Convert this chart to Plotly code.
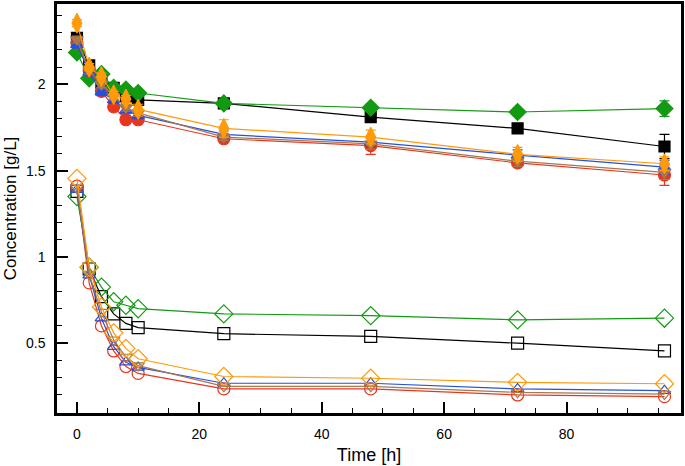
import plotly.graph_objects as go

time_h = [0, 2, 4, 6, 8, 10, 24, 48, 72, 96]

# Filled symbols (upper group)
black_f = [2.27, 2.11, 2.01, 1.98, 1.93, 1.91, 1.89, 1.81, 1.745, 1.64]
green_f = [2.185, 2.035, 2.06, 1.98, 1.97, 1.95, 1.89, 1.865, 1.84, 1.86]
red_f = [2.24, 2.08, 1.96, 1.87, 1.795, 1.795, 1.685, 1.645, 1.545, 1.475]
blue_f = [2.23, 2.07, 1.955, 1.91, 1.85, 1.82, 1.71, 1.665, 1.59, 1.52]
brown_f = [2.26, 2.08, 2.0, 1.93, 1.865, 1.835, 1.695, 1.655, 1.555, 1.49]
orange_f = [2.355, 2.10, 2.045, 1.94, 1.915, 1.855, 1.745, 1.695, 1.595, 1.54]

black_f_err = [0.02, 0.02, 0.02, 0.02, 0.02, 0.02, 0.02, 0.03, 0.02, 0.07]
green_f_err = [0.02, 0.02, 0.02, 0.01, 0.01, 0.01, 0.02, 0.02, 0.02, 0.045]
red_f_err = [0.02, 0.02, 0.02, 0.02, 0.02, 0.02, 0.02, 0.05, 0.02, 0.06]
blue_f_err = [0.02, 0.02, 0.02, 0.02, 0.02, 0.02, 0.02, 0.03, 0.03, 0.04]
brown_f_err = [0.02, 0.02, 0.02, 0.02, 0.02, 0.02, 0.02, 0.03, 0.03, 0.04]
orange_f_err = [0.02, 0.02, 0.02, 0.02, 0.02, 0.03, 0.05, 0.04, 0.04, 0.04]

# Open symbols (lower group)
black_o = [1.38, 0.93, 0.77, 0.67, 0.615, 0.59, 0.555, 0.54, 0.50, 0.455]
green_o = [1.35, 0.94, 0.825, 0.74, 0.72, 0.70, 0.67, 0.66, 0.635, 0.645]
red_o = [1.41, 0.85, 0.60, 0.455, 0.365, 0.325, 0.235, 0.235, 0.20, 0.19]
blue_o = [1.39, 0.895, 0.645, 0.48, 0.39, 0.36, 0.268, 0.268, 0.235, 0.225]
brown_o = [1.40, 0.90, 0.68, 0.52, 0.42, 0.37, 0.25, 0.25, 0.215, 0.205]
orange_o = [1.455, 0.94, 0.71, 0.56, 0.47, 0.41, 0.307, 0.297, 0.273, 0.265]

BLACK = "#000000"
GREEN = "#139a13"
RED = "#e8361e"
BLUE = "#2251e0"
BROWN = "#a8774e"
ORANGE = "#ff9a0a"

fig = go.Figure()


def add(y, err, color, symbol, size, filled):
    marker = dict(symbol=symbol if filled else symbol + "-open", size=size, color=color,
                  line=dict(color=color, width=1.2))
    kw = {}
    if err is not None:
        kw["error_y"] = dict(type="data", array=err, visible=True, color=color, thickness=1.2, width=5)
    fig.add_trace(go.Scatter(
        x=time_h, y=y, mode="lines+markers",
        line=dict(color=color, width=1.2),
        marker=marker,
        showlegend=False, cliponaxis=False, **kw,
    ))


# open group
add(black_o, None, BLACK, "square", 12, False)
add(green_o, None, GREEN, "diamond", 14, False)
add(red_o, None, RED, "circle", 12, False)
add(blue_o, None, BLUE, "triangle-up", 11, False)
add(brown_o, None, BROWN, "triangle-down", 11, False)
add(orange_o, None, ORANGE, "diamond", 14, False)

# filled group
add(black_f, black_f_err, BLACK, "square", 11, True)
add(green_f, green_f_err, GREEN, "diamond", 13, True)
add(red_f, red_f_err, RED, "circle", 12, True)
add(blue_f, blue_f_err, BLUE, "triangle-up", 11, True)
add(brown_f, brown_f_err, BROWN, "triangle-down", 11, True)
add(orange_f, orange_f_err, ORANGE, "diamond-tall", 14, True)

FONT = "Liberation Sans, Arial, Helvetica, sans-serif"

fig.update_layout(
    width=685, height=466,
    margin=dict(l=57, r=2, t=1, b=53),
    paper_bgcolor="white", plot_bgcolor="white",
    font=dict(family=FONT, size=14, color="black"),
    xaxis=dict(
        range=[-3.26, 98.7], showgrid=False, zeroline=False,
        showline=True, linecolor="black", linewidth=2.5, mirror=True,
        ticks="inside", ticklen=11, tickwidth=2, tickcolor="black",
        tickmode="array", tickvals=[0, 20, 40, 60, 80],
        minor=dict(ticks="inside", ticklen=5, tickwidth=1.2, tickcolor="black",
                   tickmode="array", tickvals=[5, 10, 15, 25, 30, 35, 45, 50, 55, 65, 70, 75, 85, 90, 95]),
        ticklabelstandoff=6,
        tickfont=dict(size=14),
        title=dict(text="Time [h]", font=dict(size=18), standoff=8),
    ),
    yaxis=dict(
        range=[0.0955, 2.466], showgrid=False, zeroline=False,
        showline=True, linecolor="black", linewidth=2.5, mirror=True,
        ticks="inside", ticklen=11, tickwidth=2, tickcolor="black",
        tickmode="array", tickvals=[0.5, 1, 1.5, 2], ticktext=["0.5", "1", "1.5", "2"],
        minor=dict(ticks="inside", ticklen=5, tickwidth=1.2, tickcolor="black",
                   tickmode="array",
                   tickvals=[0.1, 0.2, 0.3, 0.4, 0.6, 0.7, 0.8, 0.9, 1.1, 1.2, 1.3, 1.4,
                             1.6, 1.7, 1.8, 1.9, 2.1, 2.2, 2.3, 2.4]),
        ticklabelstandoff=6,
        tickfont=dict(size=14),
        title=dict(text="Concentration [g/L]", font=dict(size=17), standoff=6),
    ),
)

fig.write_html("out.html", config={"displayModeBar": False},
               post_script="document.body.style.margin='0';document.body.style.padding='0';")
